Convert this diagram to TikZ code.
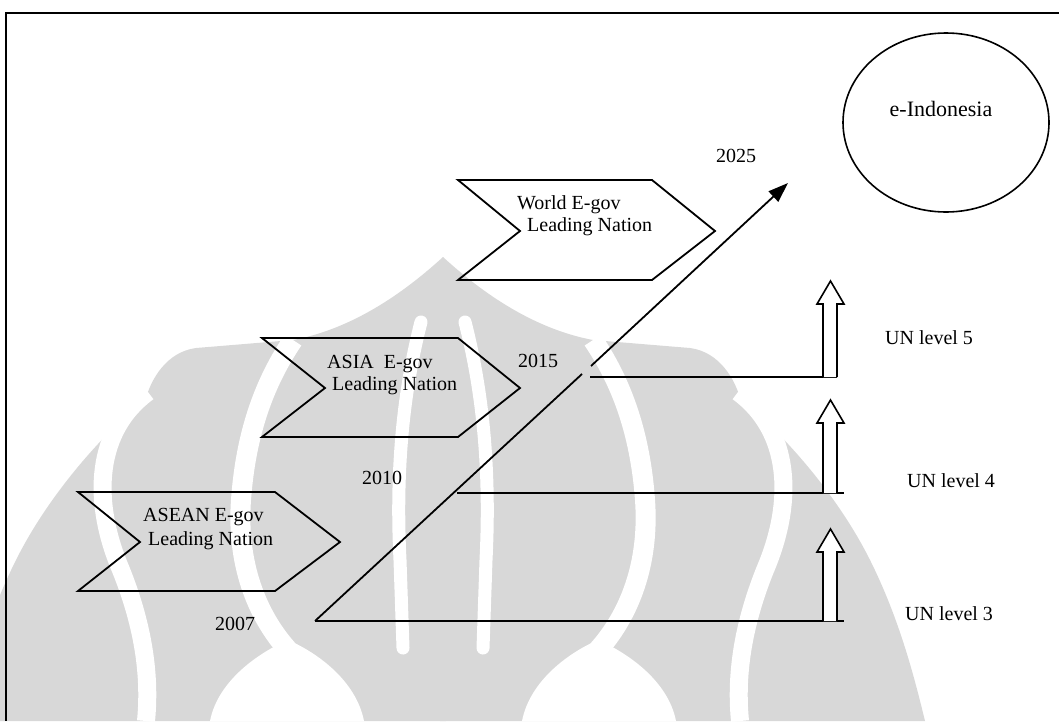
\documentclass[tikz,border=0pt]{standalone}
\usepackage{fontspec}
\setmainfont{Liberation Serif}
\usetikzlibrary{arrows.meta,shapes.geometric}
\definecolor{wmgray}{RGB}{216,216,216}
\newcommand\wmhalf{%
  \fill[wmgray] (443,257) .. controls (490,300) and (540,330) .. (593,340)
     -- (690,348) .. controls (720,352) and (735,380) .. (740,398)
     .. controls (790,440) and (840,500) .. (870,560)
     .. controls (900,620) and (915,680) .. (925,721) -- (440,721) -- cycle;
  \draw[white, line width=20pt] (593,340) .. controls (620,380) and (640,430) .. (645,500)
     .. controls (650,570) and (625,620) .. (598,650);
  \draw[white, line width=18pt] (738,392) .. controls (790,430) and (795,500) .. (765,570)
     .. controls (745,620) and (735,670) .. (740,721);
  \draw[white, line width=13pt, line cap=round] (465,322) .. controls (485,400) and (490,480) .. (486,560) -- (483,648);
  \fill[white] (522,721) .. controls (530,680) and (570,652) .. (598,640)
     .. controls (626,652) and (668,680) .. (676,721) -- cycle;
}
\begin{document}
\begin{tikzpicture}[x=1pt,y=-1pt,
  ln/.style={line width=1.8pt},
  chev/.style={line width=1.8pt, line join=miter},
  lbl/.style={font=\fontsize{20}{22}\selectfont, inner sep=0pt, anchor=base west},
  yr/.style={font=\fontsize{20}{22}\selectfont, inner sep=0pt, anchor=base},
  blk/.style={line width=1.6pt, fill=white, line join=miter}]
\useasboundingbox (0,0) rectangle (1059,721);
% watermark
\wmhalf
\begin{scope}[xshift=886pt, xscale=-1]
\wmhalf
\end{scope}
% frame
\draw[line width=2.6pt] (6,13) -- (1059,13);
\draw[line width=2pt] (6,12) -- (6,721);
% chevrons
\draw[chev] (78,492) -- (275,492) -- (340,542) -- (275,591) -- (78,591) -- (140,542) -- cycle;
\draw[chev] (262,338) -- (458,338) -- (520,388) -- (458,437) -- (262,437) -- (325,388) -- cycle;
\draw[chev] (458,180) -- (652,180) -- (715,231) -- (652,280) -- (458,280) -- (520,231) -- cycle;
% chevron texts
\node[lbl] (aseanA) at (143,521) {ASEAN E-gov};
\node[lbl] (aseanB) at (148,545) {Leading Nation};
\node[lbl] (asiaA) at (327,368) {ASIA\ \ E-gov};
\node[lbl] (asiaB) at (332,390) {Leading Nation};
\node[lbl] (worldA) at (517,209) {World E-gov};
\node[lbl] (worldB) at (527,231) {Leading Nation};
% years
\node[yr] (y2007) at (235,630) {2007};
\node[yr] (y2010) at (382,484) {2010};
\node[yr] (y2015) at (538,367) {2015};
\node[yr] (y2025) at (736,162) {2025};
% e-Indonesia
\node[draw, ellipse, line width=1.6pt, minimum width=206pt, minimum height=179pt, inner sep=0pt] (eind) at (946,122.5) {};
\node[font=\fontsize{22}{24}\selectfont, inner sep=0pt, anchor=base] (eindt) at (941,116) {e-Indonesia};
% diagonal timeline
\coordinate (d0) at (315,621);
\coordinate (d1) at (582,374);
\coordinate (d2) at (591,366);
\coordinate (d3) at (788,183);
\draw[ln] (d0) -- (d1);
\draw[ln, -{Triangle[length=20pt,width=14pt]}] (d2) -- (d3);
% horizontal level lines
\coordinate (h7e) at (844,621);
\coordinate (h10s) at (457,493);
\coordinate (h10e) at (844,493);
\coordinate (h15s) at (590,377);
\coordinate (h15e) at (837,377);
\draw[ln] (d0) -- (h7e);
\draw[ln] (h10s) -- (h10e);
\draw[ln] (h15s) -- (h15e);
% block arrows
\draw[blk] (823,621) -- (823,552) -- (817,552) -- (830.5,529) -- (844,552) -- (837,552) -- (837,621);
\draw[blk] (823,493) -- (823,423) -- (817,423) -- (830.5,400) -- (844,423) -- (837,423) -- (837,493);
\draw[blk] (823,377) -- (823,304) -- (817,304) -- (830.5,281) -- (844,304) -- (837,304) -- (837,377);
% UN labels
\node[lbl] (un5) at (885,344) {UN level 5};
\node[lbl] (un4) at (907,487) {UN level 4};
\node[lbl] (un3) at (905,620) {UN level 3};
\end{tikzpicture}
\end{document}
